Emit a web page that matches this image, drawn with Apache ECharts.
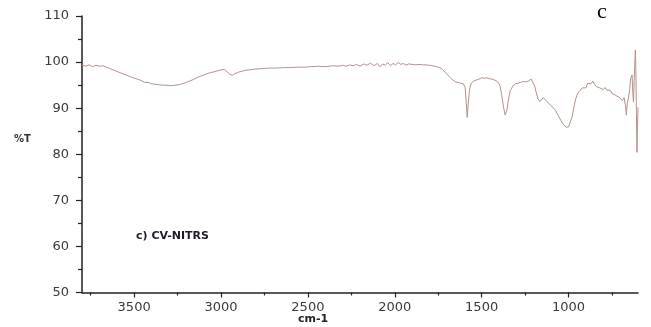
<!DOCTYPE html>
<html>
<head>
<meta charset="utf-8">
<script src="https://cdn.jsdelivr.net/npm/echarts@6/dist/echarts.min.js"></script>
<style>html,body{margin:0;padding:0;background:#fff;}#c{width:651px;height:327px;}</style>
</head>
<body>
<div id="c"></div>
<script>
var wavenumbers = [3800,3780,3760,3740,3720,3700,3680,3660,3640,3620,3600,3580,3560,3540,3520,3500,3480,3460,3440,3420,3400,3380,3360,3340,3320,3300,3280,3260,3240,3220,3200,3180,3160,3140,3120,3100,3080,3060,3040,3020,3000,2980,2965,2950,2935,2920,2900,2880,2860,2840,2820,2800,2760,2720,2680,2640,2600,2560,2520,2480,2440,2400,2360,2320,2300,2280,2260,2240,2220,2200,2180,2160,2140,2120,2100,2085,2070,2055,2040,2025,2010,1995,1980,1965,1950,1935,1920,1900,1880,1860,1840,1820,1800,1780,1760,1740,1725,1710,1695,1680,1665,1650,1635,1620,1605,1595,1588,1583,1578,1570,1560,1545,1530,1515,1500,1485,1470,1455,1440,1425,1410,1395,1385,1375,1365,1355,1345,1335,1320,1305,1290,1275,1260,1245,1230,1215,1205,1195,1185,1175,1165,1155,1145,1135,1120,1105,1090,1075,1060,1045,1030,1015,1000,990,980,970,960,950,940,930,920,910,900,890,880,870,860,850,840,830,820,810,800,790,780,770,760,750,740,730,720,710,700,690,680,672,667,662,655,648,642,638,634,630,626,622,618,615,612,609,606,603,600];
var transmittance = [99.3,99.1,99.4,99.0,99.3,99.1,99.2,98.9,98.6,98.3,98.0,97.7,97.4,97.1,96.8,96.5,96.3,96.0,95.6,95.6,95.3,95.2,95.1,95.0,95.0,94.9,94.9,95.0,95.1,95.3,95.6,95.9,96.2,96.6,96.9,97.2,97.5,97.7,97.9,98.1,98.3,98.4,97.9,97.4,97.1,97.5,97.8,98.0,98.2,98.3,98.4,98.5,98.6,98.7,98.7,98.8,98.8,98.9,98.9,99.0,99.1,99.0,99.2,99.1,99.3,99.1,99.4,99.2,99.5,99.1,99.6,99.3,99.8,99.2,99.7,99.0,99.6,99.3,99.9,99.2,99.7,99.4,99.9,99.5,99.7,99.3,99.6,99.5,99.4,99.5,99.4,99.4,99.3,99.2,99.0,98.8,98.4,97.8,97.2,96.6,96.1,95.7,95.6,95.4,95.3,94.5,91.0,88.0,90.5,94.0,95.4,95.9,96.1,96.3,96.6,96.5,96.6,96.4,96.3,96.1,95.8,95.0,93.0,90.5,88.5,89.5,92.0,93.8,94.8,95.3,95.4,95.6,95.8,95.7,95.9,96.3,96.6,94.8,93.3,92.0,91.4,91.8,92.3,92.1,91.3,90.7,90.2,89.5,88.5,87.4,86.5,85.9,85.9,86.2,88.0,90.0,91.8,93.0,93.6,93.2,94.4,94.8,94.4,95.4,95.7,95.3,95.9,95.2,94.7,95.1,94.4,94.7,94.0,94.5,93.9,93.5,93.9,93.2,93.5,92.8,93.1,92.4,92.0,91.7,92.3,90.5,88.5,91.0,92.2,94.0,96.5,96.1,97.2,93.5,91.3,96.0,100.0,102.6,98.0,89.0,80.4,86.0,90.2];
var xMajorTicks = [1000,1500,2000,2500,3000,3500];
var xMinorTicks = [750,1250,1750,2250,2750,3250,3750];

var points = wavenumbers.map(function(w,i){return [w, transmittance[i]];});
var chart = echarts.init(document.getElementById('c'), null, {renderer:'canvas'});
var labelFont = {color:'#3a3a3a', fontSize:13, fontFamily:'DejaVu Sans'};
chart.setOption({
  animation:false,
  backgroundColor:'#fff',
  grid:{left:82, right:13, top:16, bottom:34.5},
  xAxis:[{
    type:'value', inverse:true, min:600, max:3800,
    axisLine:{show:true, lineStyle:{color:'#222', width:1.5}},
    axisTick:{show:true, length:5, inside:false, customValues:xMajorTicks, lineStyle:{color:'#222', width:1.2}},
    axisLabel:Object.assign({margin:9, customValues:xMajorTicks, formatter:function(v){return String(v);}}, labelFont),
    splitLine:{show:false}
  },{
    type:'value', inverse:true, min:600, max:3800, position:'bottom',
    axisLine:{show:false},
    axisTick:{show:true, length:3, customValues:xMinorTicks, lineStyle:{color:'#222', width:1.2}},
    axisLabel:{show:false},
    splitLine:{show:false}
  }],
  yAxis:{
    type:'value', min:50, max:110, interval:10,
    axisLine:{show:true, lineStyle:{color:'#222', width:1.5}},
    axisTick:{show:true, length:6, lineStyle:{color:'#222', width:1.2}},
    minorTick:{show:true, splitNumber:2, length:4, lineStyle:{color:'#222', width:1.2}},
    axisLabel:Object.assign({margin:13}, labelFont),
    splitLine:{show:false}
  },
  graphic:[
    {type:'text', left:14, top:134, style:{text:'%T', fill:'#333', font:'bold 10px "DejaVu Sans"'}},
    {type:'text', left:298, top:314, style:{text:'cm-1', fill:'#222', font:'bold 11px "DejaVu Sans"'}},
    {type:'text', left:136, top:231, style:{text:'c) CV-NITRS', fill:'#1c1c2c', font:'bold 11px "DejaVu Sans"'}},
    {type:'text', left:597, top:1, style:{text:'c', fill:'#000', font:'22px "Liberation Serif"'}}
  ],
  series:[{
    type:'line', xAxisIndex:0, data:points, showSymbol:false, symbol:'none',
    lineStyle:{color:'#b39288', width:1}, smooth:false
  }]
});
</script>
</body>
</html>
